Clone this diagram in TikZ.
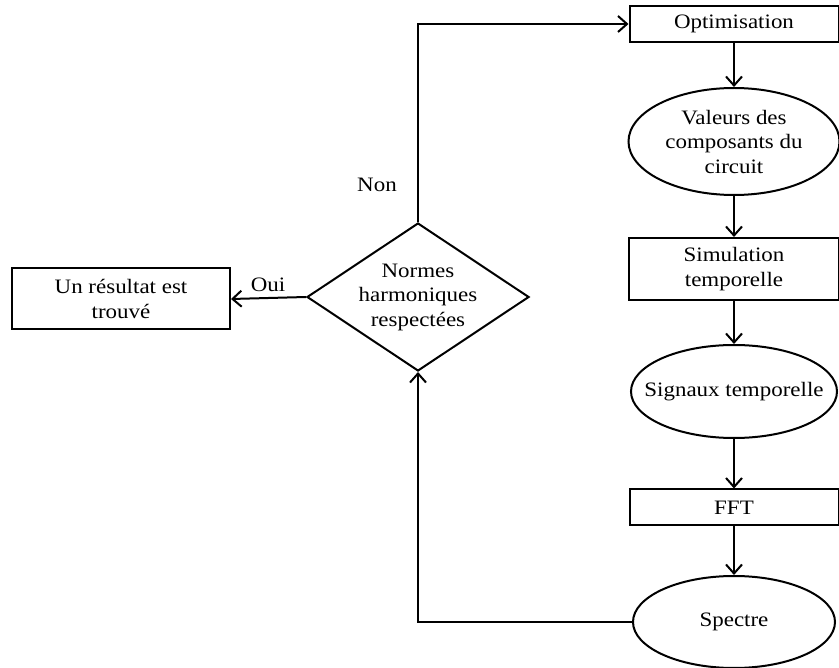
\documentclass[tikz,border=0pt]{standalone}
\usepackage{fontspec}
\setmainfont[FakeStretch=1.12]{Liberation Serif}
\usepackage{tikz}
\usetikzlibrary{shapes,arrows.meta,positioning}
\tikzstyle{to} = [-{Straight Barb[length=9pt,width=16pt]},line width=2pt]
\tikzstyle{bloc} = [draw,line width=2pt,rectangle,inner sep=0pt,align=center]
\tikzstyle{bulle} = [draw,line width=2pt,ellipse,inner sep=0pt,align=center]
\tikzstyle{test} = [draw,line width=2pt,diamond,aspect=1.5,inner sep=0pt,align=center]

\begin{document}
\begin{tikzpicture}[x=1pt,y=-1pt,font=\fontsize{20.5}{24.5}\selectfont]
    \useasboundingbox (0,0) rectangle (839,668);

    % chaine de calcul a droite
    \node[bloc,minimum width=209pt,minimum height=36pt] (opt) at (734,24) {Optimisation};
    \node[bulle,minimum width=211pt,minimum height=107pt] (val) at (734,141.5) {Valeurs des\\composants du\\circuit};
    \node[bloc,minimum width=210pt,minimum height=62pt] (sim) at (734,269) {Simulation\\temporelle};
    \node[bulle,minimum width=206pt,minimum height=93pt] (sig) at (734,391.5) {\makebox[0pt]{Signaux temporelle}};
    \node[bloc,minimum width=209pt,minimum height=36pt] (fft) at (734,507.5) {FFT};
    \node[bulle,minimum width=202pt,minimum height=92pt] (spec) at (734,622) {Spectre};

    % test et sortie
    \node[test,minimum width=222pt,minimum height=148pt] (norm) at (418,297) {Normes\\harmoniques\\respectées};
    \node[bloc,minimum width=218pt,minimum height=61pt] (res) at (121,299) {Un résultat est\\trouvé};
    \node (oui) at (268,285) {Oui};
    \node (non) at (377,185) {Non};

    \draw[to] (opt) -- (val);
    \draw[to] (val) -- (sim);
    \draw[to] (sim) -- (sig);
    \draw[to] (sig) -- (fft);
    \draw[to] (fft) -- (spec);
    \draw[to] (spec.west) -| (norm.south);
    \draw[to] (norm.north) |- (opt.west);
    \draw[to] (norm.west) -- (res.east);
\end{tikzpicture}
\end{document}
